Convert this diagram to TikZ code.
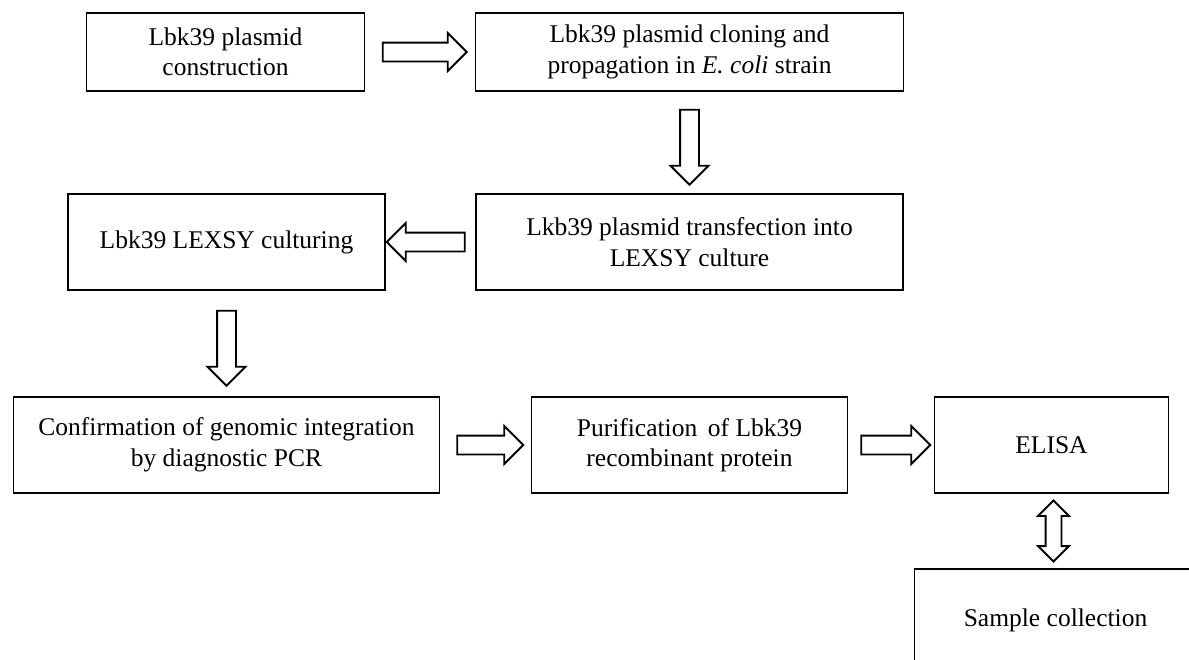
\documentclass[tikz,border=0pt]{standalone}
\usepackage{fontspec}
\setmainfont{Liberation Serif}
\usetikzlibrary{positioning, shapes.arrows, calc}

\tikzset{
  stepbox/.style={draw, line width=1.9pt, align=center, inner sep=0pt, outer sep=0pt,
                  font=\fontsize{25.5}{30.5}\selectfont},
  fatarrow/.style={single arrow, draw, line width=1.9pt, inner sep=8.5pt,
                   minimum height=#1, single arrow head extend=9.5pt},
}

\begin{document}
\begin{tikzpicture}[x=1pt, y=-1pt]
        \useasboundingbox (0,0) rectangle (1189,659);
        % top row
        \node (cons) [stepbox, minimum width=278pt, minimum height=78pt] at (225.5,52)
              {Lbk39 plasmid\\construction};
        \node (clone) [stepbox, minimum width=428pt, minimum height=78pt, right=111pt of cons]
              {Lbk39 plasmid cloning and\\propagation in \emph{E. coli} strain};
        % middle row
        \node (transf) [stepbox, minimum width=427pt, minimum height=96pt, below=103pt of clone]
              {Lkb39 plasmid transfection into\\LEXSY culture};
        \node (culture) [stepbox, minimum width=317pt, minimum height=96pt, left=91pt of transf]
              {Lbk39 LEXSY culturing};
        % bottom row
        \node (pcr) [stepbox, minimum width=426pt, minimum height=96pt, below=107pt of culture]
              {Confirmation of genomic integration\\by diagnostic PCR};
        \node (purify) [stepbox, minimum width=316pt, minimum height=96pt, right=92pt of pcr]
              {Purification\, of Lbk39\\recombinant protein};
        \node (elisa) [stepbox, minimum width=234pt, minimum height=96pt, right=87pt of purify]
              {ELISA};
        \node (sample) [stepbox, minimum width=282pt, minimum height=102pt, below=76pt of elisa,
              xshift=4pt] {Sample collection};
        % arrows
        \foreach \a/\b/\l in {cons/clone/84, pcr/purify/66, purify/elisa/69}
            \node[fatarrow=\l pt] at ($(\a.east)!0.5!(\b.west)$) {};
        \node[fatarrow=78pt, shape border rotate=180] at ($(transf.west)!0.5!(culture.east)$) {};
        \foreach \a/\b in {clone/transf, culture/pcr}
            \node[fatarrow=75pt, shape border rotate=270] at ($(\a.south)!0.5!(\b.north)$) {};
        \node[double arrow, draw, line width=1.9pt, inner sep=7pt, minimum height=61pt,
              double arrow head extend=7.5pt, shape border rotate=90]
              at ($(elisa.south)!0.5!(sample.north)$) {};
        %
\end{tikzpicture}
\end{document}
